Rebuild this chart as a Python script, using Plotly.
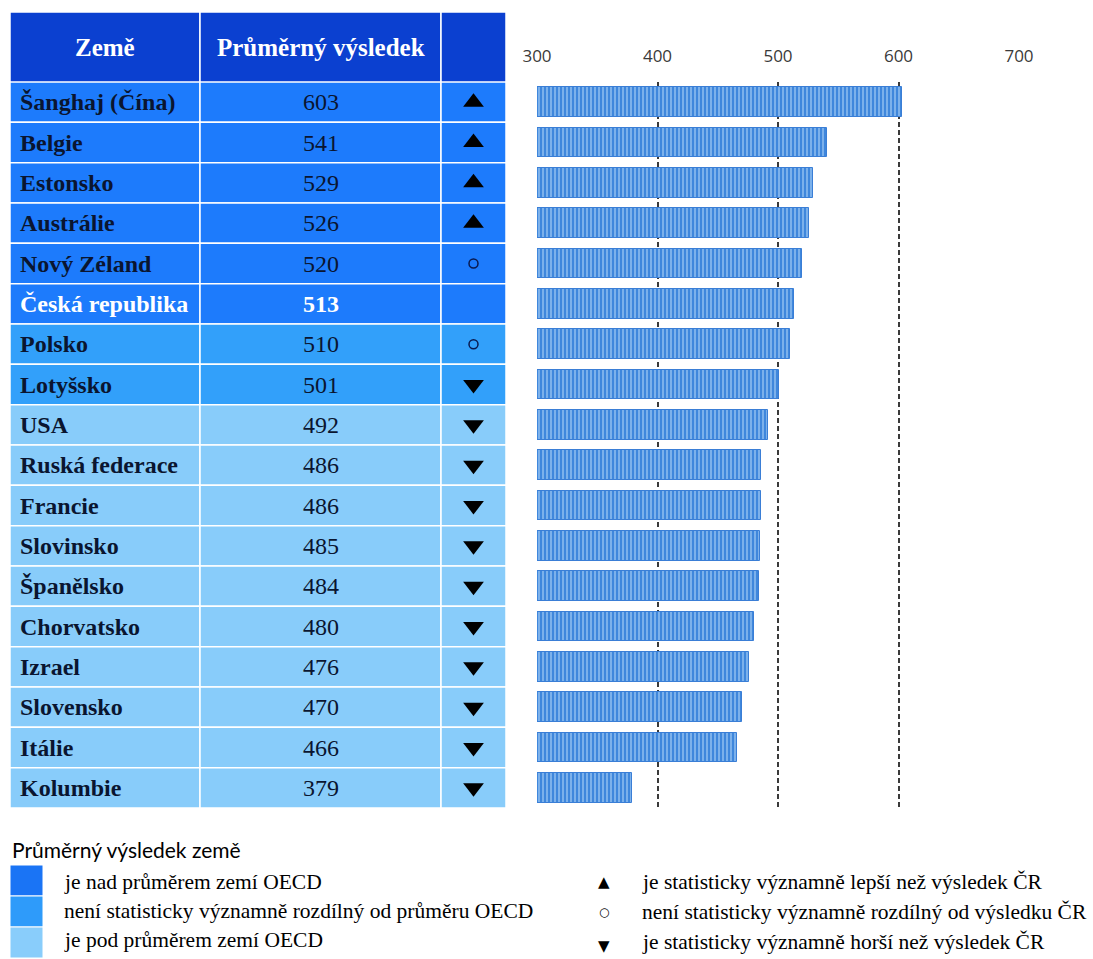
import plotly.graph_objects as go

countries = ["Šanghaj (Čína)", "Belgie", "Estonsko", "Austrálie", "Nový Zéland",
             "Česká republika", "Polsko", "Lotyšsko", "USA", "Ruská federace",
             "Francie", "Slovinsko", "Španělsko", "Chorvatsko", "Izrael",
             "Slovensko", "Itálie", "Kolumbie"]
scores = [603, 541, 529, 526, 520, 513, 510, 501, 492, 486, 486, 485, 484, 480, 476, 470, 466, 379]
oecd_status = ["above", "above", "above", "above", "above", "above", "same", "same",
               "below", "below", "below", "below", "below", "below", "below", "below", "below", "below"]
cr_compare = ["better", "better", "better", "better", "same", "ref", "same", "worse",
              "worse", "worse", "worse", "worse", "worse", "worse", "worse", "worse", "worse", "worse"]
header_labels = ["Země", "Průměrný výsledek", ""]
tick_values = [300, 400, 500, 600, 700]
legend_title = "Průměrný výsledek země"
oecd_legend = [("above", "je nad průměrem zemí OECD"),
               ("same", "není statisticky významně rozdílný od průměru OECD"),
               ("below", "je pod průměrem zemí OECD")]
cr_legend = [("▲", "je statisticky významně lepší než výsledek ČR"),
             ("○", "není statisticky významně rozdílný od výsledku ČR"),
             ("▼", "je statisticky významně horší než výsledek ČR")]

W, H = 1093, 959
HEADER_COLOR = "#0b40d0"
ROW_COLORS = {"above": "#1d7bfc", "same": "#32a0fa", "below": "#88ccfa"}
LEGEND_COLORS = {"above": "#1a74f5", "same": "#2e9bfa", "below": "#89cdfb"}
TEXT_DARK = "#0a1530"
SERIF = "'Liberation Serif', 'Times New Roman', serif"

def py(p):
    return 1 - p / H

TOP, BOTTOM = 82, 808
COLS = [10, 200, 441, 506]
idx = list(range(len(countries)))

fig = go.Figure()

# bars
fig.add_trace(go.Bar(
    x=scores, y=idx, orientation="h", width=0.74,
    marker=dict(color="#3f87dc", line=dict(color="#3a7ed6", width=1),
                pattern=dict(shape="|", fgcolor="#b9dcf9", bgcolor="#3f87dc", size=4, solidity=0.5)),
    xaxis="x", yaxis="y", showlegend=False, hoverinfo="x+y"))

# table cells
shapes = []
annotations = []
for i, (c, s, st) in enumerate(zip(countries, scores, oecd_status)):
    for j in range(3):
        shapes.append(dict(type="rect", xref="x2", yref="y", x0=COLS[j], x1=COLS[j + 1],
                           y0=i - 0.5, y1=i + 0.5, fillcolor=ROW_COLORS[st],
                           line=dict(color="white", width=1.5), layer="below"))
    col = "white" if cr_compare[i] == "ref" else TEXT_DARK
    annotations.append(dict(xref="x2", yref="y", x=COLS[0] + 8, y=i, text=f"<b>{c}</b>",
                            showarrow=False, xanchor="left", yanchor="middle",
                            font=dict(family=SERIF, size=24, color=col)))
    annotations.append(dict(xref="x2", yref="y", x=(COLS[1] + COLS[2]) / 2, y=i,
                            text=f"<b>{s}</b>" if cr_compare[i] == "ref" else str(s),
                            showarrow=False, xanchor="center", yanchor="middle",
                            font=dict(family=SERIF, size=24, color=col)))

# header
for j, lab in enumerate(header_labels):
    shapes.append(dict(type="rect", xref="x2", yref="paper", x0=COLS[j], x1=COLS[j + 1],
                       y0=py(TOP), y1=py(12), fillcolor=HEADER_COLOR,
                       line=dict(color="white", width=1.5), layer="below"))
    if lab:
        annotations.append(dict(xref="x2", yref="paper", x=(COLS[j] + COLS[j + 1]) / 2, y=py(47),
                                text=f"<b>{lab}</b>", showarrow=False, xanchor="center", yanchor="middle",
                                font=dict(family=SERIF, size=25, color="white")))

# symbols column
sym_x = (COLS[2] + COLS[3]) / 2
for kind, sym, sz, lw, colr in [("better", "triangle-up", 18, 0, "black"),
                                ("same", "circle-open", 9, 1.5, "#0a1a50"),
                                ("worse", "triangle-down", 18, 0, "black")]:
    ys = [i for i in idx if cr_compare[i] == kind]
    fig.add_trace(go.Scatter(x=[sym_x] * len(ys), y=ys, mode="markers", xaxis="x2", yaxis="y",
                             marker=dict(symbol=sym, size=sz, color=colr, line=dict(color=colr, width=lw)),
                             showlegend=False, hoverinfo="skip"))

# legend
annotations.append(dict(xref="x2", yref="paper", x=10, y=py(849), text=legend_title, showarrow=False,
                        xanchor="left", yanchor="middle",
                        font=dict(family="Lato, 'Open Sans', sans-serif", size=21, color="black")))
for k, (st, txt) in enumerate(oecd_legend):
    y0 = 865 + k * 31
    shapes.append(dict(type="rect", xref="x2", yref="paper", x0=10, x1=43, y0=py(y0 + 31), y1=py(y0),
                       fillcolor=LEGEND_COLORS[st], line=dict(color="white", width=1)))
    annotations.append(dict(xref="x2", yref="paper", x=62, y=py(882 + k * 29), text=txt, showarrow=False,
                            xanchor="left", yanchor="middle", font=dict(family=SERIF, size=21.5, color="black")))
for k, (sym, txt) in enumerate(cr_legend):
    yy = 882 + k * 30
    annotations.append(dict(xref="x2", yref="paper", x=604, y=py(yy + (4 if k == 2 else 0)), text=sym, showarrow=False,
                            xanchor="center", yanchor="middle",
                            font=dict(family="'DejaVu Sans'", size=15 if k != 1 else 12, color="black")))
    annotations.append(dict(xref="x2", yref="paper", x=640, y=py(yy), text=txt, showarrow=False,
                            xanchor="left", yanchor="middle", font=dict(family=SERIF, size=21.5, color="black")))

fig.update_layout(
    width=W, height=H, margin=dict(l=0, r=0, t=0, b=0, autoexpand=False),
    paper_bgcolor="white", plot_bgcolor="rgba(0,0,0,0)",
    shapes=shapes, annotations=annotations, bargap=0,
    xaxis=dict(domain=[537 / W, 1019 / W], range=[300, 700], autorange=False, side="top", tickvals=tick_values,
               showgrid=True, gridcolor="#3a3a3a", griddash="5px,3px", gridwidth=1.5,
               zeroline=False, showline=False, ticks="", ticklabelstandoff=16, automargin=False,
               tickfont=dict(family="'Open Sans', sans-serif", size=17, color="#3a3a3a"), anchor="y"),
    xaxis2=dict(domain=[0, 1], range=[0, W], autorange=False, visible=False, anchor="y", automargin=False),
    yaxis=dict(domain=[py(BOTTOM), py(TOP)], range=[len(countries) - 0.5, -0.5], autorange=False,
               visible=False, automargin=False),
)

fig.write_html("out.html")
